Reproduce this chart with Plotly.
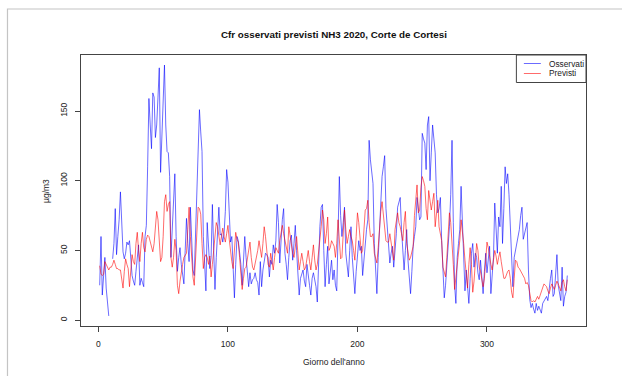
import plotly.graph_objects as go

# ---------------- data ----------------
osservati = [
    25, 60, 18, 30, 45, 23, 15, 3, None, None,
    44, 55, 80, 47, 60, 72, 92, 65, 49, 44,
    48, 56, 54, 57, 45, 32, 28, 25, 35, 45,
    54, 25, 30, 27, 24, 60, 68, 110, 159, 140,
    123, 163, 160, 131, 140, 160, 181, 106, 130, 149,
    183, 140, 121, 120, 103, 45, 65, 80, 105, 60,
    35, 45, 52, 40, 31, 26, 50, 73, 55, 42,
    81, 50, 36, 32, 60, 88, 130, 151, 135, 121,
    60, 37, 21, 70, 50, 37, 45, 83, 50, 22,
    45, 60, 81, 61, 62, 56, 62, 78, 108, 99,
    72, 56, 60, 36, 16, 40, 60, 57, 50, 40,
    25, 45, 60, 45, 35, 24, 34, 26, 29, 30,
    34, 29, 27, 18, 42, 24, 36, 41, 48, 47,
    45, 31, 43, 40, 54, 48, 57, 83, 70, 41,
    60, 72, 80, 48, 40, 29, 45, 57, 61, 43,
    55, 68, 50, 36, 18, 30, 34, 36, 28, 24,
    40, 34, 25, 18, 30, 34, 28, 24, 13, 45,
    67, 81, 83, 50, 24, 40, 53, 26, 35, 43,
    29, 36, 25, 21, 60, 103, 75, 60, 70, 81,
    48, 40, 31, 50, 67, 45, 30, 19, 35, 48,
    57, 50, 53, 32, 45, 57, 65, 72, 129, 115,
    105, 98, 55, 35, 19, 45, 67, 90, 103, 110,
    118, 80, 67, 57, 41, 48, 53, 38, 50, 62,
    81, 85, 88, 65, 53, 36, 50, 65, 43, 30,
    19, 35, 53, 60, 67, 88, 80, 72, 74, 134,
    130, 127, 108, 140, 146, 100, 120, 140, 130, 120,
    90, 77, 80, 88, 57, 36, 16, 25, 38, 50,
    67, 90, 129, 70, 25, 12, 45, 55, 65, 96,
    65, 40, 21, 36, 25, 12, 30, 48, 55, 38,
    48, 45, 34, 29, 43, 30, 19, 35, 48, 34,
    45, 53, 19, 35, 45, 84, 60, 48, 74, 67,
    96, 55, 80, 110, 98, 105, 90, 67, 41, 24,
    45, 50, 53, 60, 65, 75, 81, 58, 62, 65,
    70, 36, 15, 9, 12, 8, 5, 12, 7, 10,
    8, 5, 12, 14, 15, 17, 14, 24, 30, 36,
    17, 19, 30, 47, 25, 19, 14, 38, 10, 17,
    20, 32,
]

previsti = [
    39, 33, 32, 33, 42, 40, 37, 36, 38, 38,
    40, 43, 40, 37, 37, 36, 36, 30, 23, 35,
    44, 40, 37, 24, 35, 47, 42, 40, 55, 63,
    50, 42, 55, 63, 52, 49, 58, 61, 60, 56,
    52, 49, 55, 65, 78, 72, 55, 42, 45, 60,
    85, 90, 78, 83, 85, 45, 38, 45, 58, 50,
    25, 19, 28, 36, 40, 45, 47, 48, 65, 81,
    60, 40, 31, 25, 45, 58, 81, 80, 76, 55,
    37, 45, 47, 45, 40, 46, 31, 40, 49, 60,
    70, 67, 60, 54, 60, 66, 60, 56, 62, 68,
    58, 49, 42, 37, 50, 63, 58, 56, 45, 30,
    22, 30, 37, 38, 45, 52, 56, 45, 38, 36,
    40, 45, 50, 57, 50, 45, 55, 67, 60, 52,
    40, 38, 48, 42, 36, 45, 52, 50, 48, 57,
    62, 68, 62, 57, 52, 48, 67, 60, 52, 48,
    45, 52, 60, 48, 36, 42, 48, 42, 36, 38,
    44, 50, 42, 36, 45, 54, 43, 36, 40, 48,
    58, 67, 79, 72, 55, 62, 74, 50, 52, 57,
    55, 53, 45, 55, 72, 55, 44, 45, 60, 79,
    65, 55, 60, 65, 60, 57, 50, 43, 60, 77,
    70, 58, 48, 50, 62, 79, 80, 86, 70, 60,
    60, 62, 48, 44, 41, 52, 67, 78, 85, 77,
    65, 57, 56, 56, 62, 55, 48, 43, 65, 72,
    77, 70, 67, 62, 57, 70, 78, 55, 48, 43,
    45, 50, 53, 75, 90, 97, 77, 79, 95, 103,
    100, 96, 80, 72, 93, 85, 79, 85, 91, 67,
    75, 86, 67, 60, 57, 38, 34, 31, 45, 60,
    77, 70, 57, 40, 22, 30, 38, 50, 57, 72,
    65, 55, 43, 30, 23, 40, 52, 40, 20, 28,
    45, 55, 50, 38, 35, 28, 24, 30, 45, 56,
    52, 45, 40, 36, 42, 50, 46, 40, 45, 49,
    42, 35, 30, 30, 33, 35, 36, 30, 20, 16,
    30, 43, 42, 38, 37, 35, 33, 31, 30, 26,
    27, 25, 20, 14, 13, 14, 13, 15, 17, 15,
    18, 21, 24, 26, 25, 24, 21, 19, 23, 26,
    24, 22, 25, 28, 26, 24, 21, 27, 29, 24,
    21, 29,
]

giorni_oss = list(range(1, len(osservati) + 1))
giorni_prev = list(range(1, len(previsti) + 1))

x_ticks = [0, 100, 200, 300]
y_ticks = [0, 50, 100, 150]

titolo = "Cfr osservati previsti NH3 2020, Corte de Cortesi"
x_label = "Giorno dell'anno"
y_label = "µg/m3"
legend_labels = ["Osservati", "Previsti"]
col_oss = "rgba(0,0,255,0.58)"
col_prev = "rgba(255,0,0,0.58)"


def r_range(vals):
    v = [a for a in vals if a is not None]
    lo, hi = min(v), max(v)
    d = (hi - lo) * 0.04
    return [lo - d, hi + d]


# ---------------- geometry (pixels of the 622x376 page) ----------------
W, H = 622, 376
L, R, T, B = 80.6, 586.2, 55.0, 326.0
PW, PH = R - L, B - T


def px(x):
    return (x - L) / PW


def py(y):
    return (B - y) / PH


FONT = "Liberation Sans, Arial, Helvetica, sans-serif"

fig = go.Figure()
fig.add_trace(go.Scatter(x=giorni_oss, y=osservati, mode="lines",
                         line=dict(color=col_oss, width=1), name=legend_labels[0],
                         showlegend=False, connectgaps=False))
fig.add_trace(go.Scatter(x=giorni_prev, y=previsti, mode="lines",
                         line=dict(color=col_prev, width=1), name=legend_labels[1],
                         showlegend=False))

axis_common = dict(showgrid=False, zeroline=False, showline=True, mirror=True,
                   linecolor="#444", linewidth=1, ticks="outside", ticklen=5,
                   tickcolor="#444", tickwidth=1,
                   tickfont=dict(family=FONT, size=8.5, color="#222"))

fig.update_xaxes(range=r_range(giorni_oss), tickvals=x_ticks,
                 ticktext=[str(t) for t in x_ticks], ticklabelstandoff=5,
                 **axis_common)
fig.update_yaxes(range=r_range(osservati), tickvals=y_ticks,
                 ticktext=[str(t) for t in y_ticks], tickangle=-90,
                 ticklabelstandoff=5, **axis_common)

shapes = [
    # outer light frame of the page
    dict(type="rect", xref="paper", yref="paper", x0=px(7), x1=px(640),
         y0=py(400), y1=py(9), line=dict(color="#c4c4c4", width=1.2),
         fillcolor="rgba(0,0,0,0)", layer="below"),
    # legend box
    dict(type="rect", xref="paper", yref="paper", x0=px(516.5), x1=px(586.2),
         y0=py(82.5), y1=py(55), line=dict(color="#444", width=1),
         fillcolor="white"),
    dict(type="line", xref="paper", yref="paper", x0=px(524), x1=px(541),
         y0=py(63.5), y1=py(63.5), line=dict(color=col_oss, width=1)),
    dict(type="line", xref="paper", yref="paper", x0=px(524), x1=px(541),
         y0=py(73.5), y1=py(73.5), line=dict(color=col_prev, width=1)),
]

annotations = [
    dict(text="<b>" + titolo + "</b>", xref="paper", yref="paper", x=0.5, y=py(35),
         xanchor="center", yanchor="middle", showarrow=False,
         font=dict(family=FONT, size=9.8, color="#111")),
    dict(text=x_label, xref="paper", yref="paper", x=0.5, y=py(362),
         xanchor="center", yanchor="middle", showarrow=False,
         font=dict(family=FONT, size=8.5, color="#222")),
    dict(text=y_label, xref="paper", yref="paper", x=px(45), y=0.5,
         xanchor="center", yanchor="middle", showarrow=False, textangle=-90,
         font=dict(family=FONT, size=8.5, color="#222")),
    dict(text=legend_labels[0], xref="paper", yref="paper", x=px(547), y=py(63.5),
         xanchor="left", yanchor="middle", showarrow=False,
         font=dict(family=FONT, size=8.3, color="#222")),
    dict(text=legend_labels[1], xref="paper", yref="paper", x=px(547), y=py(73.5),
         xanchor="left", yanchor="middle", showarrow=False,
         font=dict(family=FONT, size=8.3, color="#222")),
]

fig.update_layout(width=W, height=H, autosize=False,
                  margin=dict(l=L, r=W - R, t=T, b=H - B, pad=0),
                  paper_bgcolor="white", plot_bgcolor="white",
                  showlegend=False, shapes=shapes, annotations=annotations,
                  font=dict(family=FONT))

fig.write_html("out.html",
               config={"displayModeBar": False, "staticPlot": True},
               post_script="document.body.style.margin='0';"
                           "document.body.style.overflow='hidden';")
